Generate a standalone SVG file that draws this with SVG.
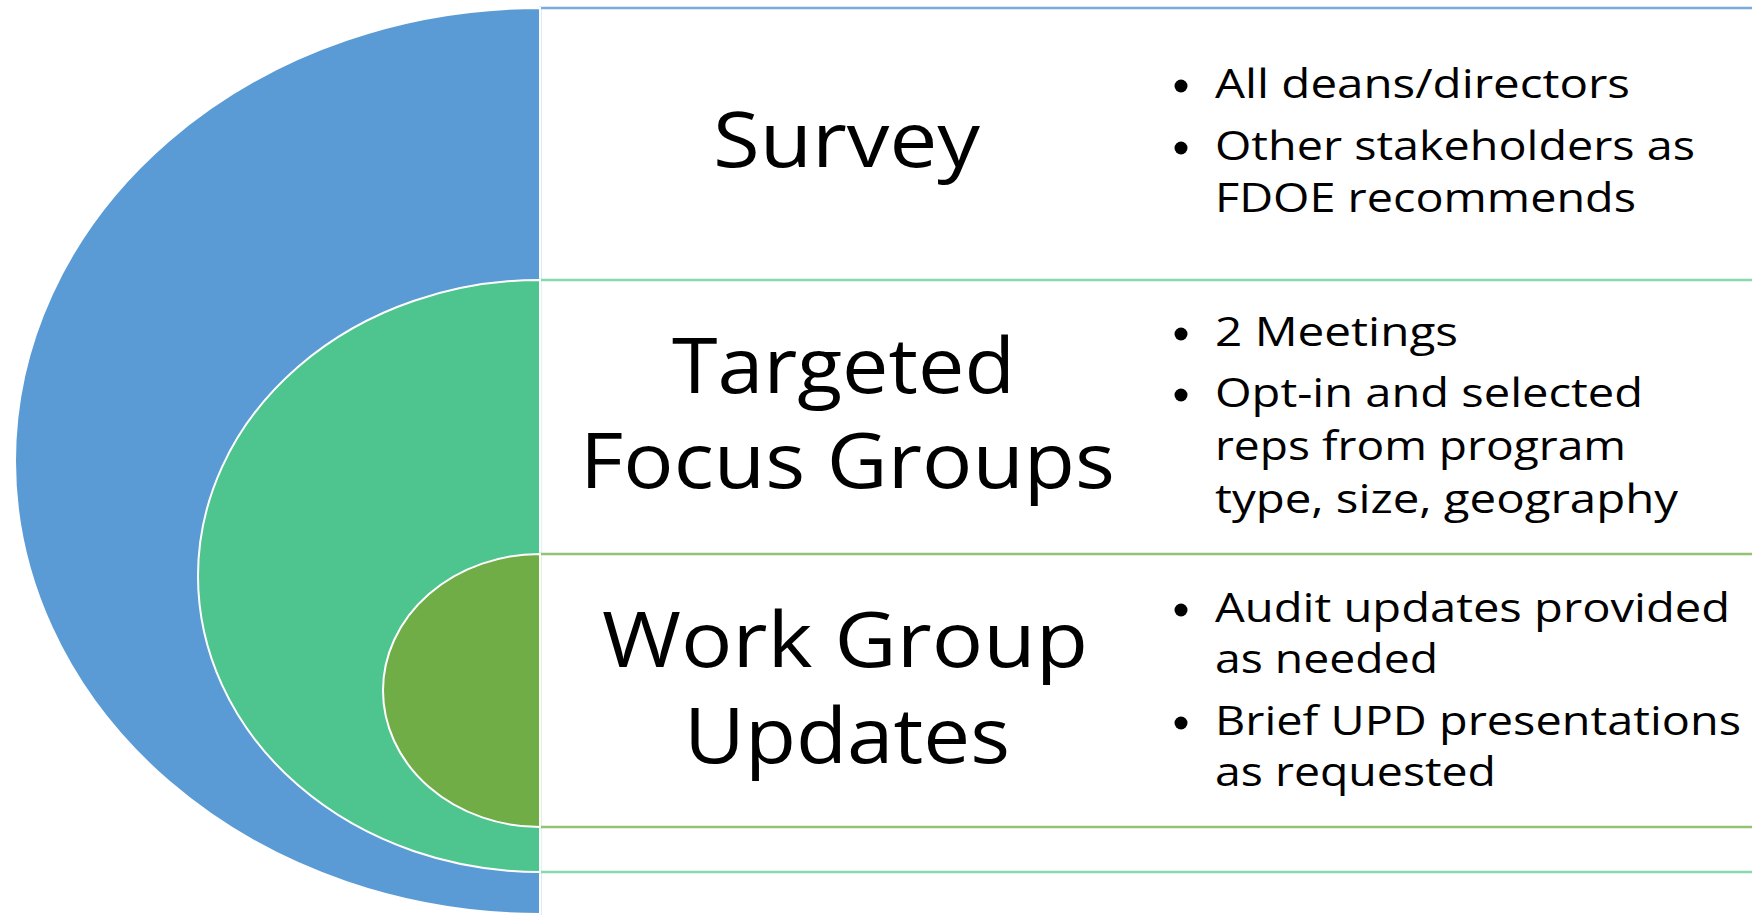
<svg xmlns="http://www.w3.org/2000/svg" width="1752" height="915" viewBox="0 0 1752 915">
<style>
.h{font-family:"Open Sans","Noto Sans","Liberation Sans",sans-serif;font-size:77px;fill:#000}
.b{font-family:"Open Sans","Noto Sans","Liberation Sans",sans-serif;font-size:40px;fill:#000}
.box{fill:#fff;stroke-width:2.5}
.arc{stroke:#fff;stroke-width:2}
</style>
<rect width="1752" height="915" fill="#fff"/>
<g id="survey">
<rect class="box" x="540" y="8" width="1260" height="940" stroke="#79ACDD"/>
<path class="arc" d="M540,8 A525,453 0 0 0 540,914 Z" fill="#5B9BD5"/>
<text class="h" x="713" y="167" textLength="267" lengthAdjust="spacingAndGlyphs">Survey</text>
<circle cx="1181" cy="86" r="6.5"/>
<text class="b" x="1215" y="98" textLength="415" lengthAdjust="spacingAndGlyphs">All deans/directors</text>
<circle cx="1181" cy="148" r="6.5"/>
<text class="b" x="1215" y="160" textLength="480" lengthAdjust="spacingAndGlyphs">Other stakeholders as</text>
<text class="b" x="1215" y="212" textLength="421" lengthAdjust="spacingAndGlyphs">FDOE recommends</text>
</g>
<g id="focus-groups">
<rect class="box" x="540" y="280" width="1260" height="592" stroke="#86D9B0"/>
<path class="arc" d="M540,280 A342,296 0 0 0 540,872 Z" fill="#4EC48E"/>
<text class="h" x="672" y="393" textLength="343" lengthAdjust="spacingAndGlyphs">Targeted</text>
<text class="h" x="580" y="488" textLength="535" lengthAdjust="spacingAndGlyphs">Focus Groups</text>
<circle cx="1181" cy="334" r="6.5"/>
<text class="b" x="1215" y="346" textLength="243" lengthAdjust="spacingAndGlyphs">2 Meetings</text>
<circle cx="1181" cy="395" r="6.5"/>
<text class="b" x="1215" y="407" textLength="428" lengthAdjust="spacingAndGlyphs">Opt-in and selected</text>
<text class="b" x="1215" y="460" textLength="411" lengthAdjust="spacingAndGlyphs">reps from program</text>
<text class="b" x="1215" y="513" textLength="463" lengthAdjust="spacingAndGlyphs">type, size, geography</text>
</g>
<g id="work-group-updates">
<rect class="box" x="540" y="554" width="1260" height="273" stroke="#92C374"/>
<path class="arc" d="M540,554 A157,136.5 0 0 0 540,827 Z" fill="#70AD47"/>
<text class="h" x="602" y="667" textLength="486" lengthAdjust="spacingAndGlyphs">Work Group</text>
<text class="h" x="684" y="763" textLength="326" lengthAdjust="spacingAndGlyphs">Updates</text>
<circle cx="1181" cy="610" r="6.5"/>
<text class="b" x="1215" y="622" textLength="515" lengthAdjust="spacingAndGlyphs">Audit updates provided</text>
<text class="b" x="1215" y="673" textLength="223" lengthAdjust="spacingAndGlyphs">as needed</text>
<circle cx="1181" cy="723" r="6.5"/>
<text class="b" x="1215" y="735" textLength="526" lengthAdjust="spacingAndGlyphs">Brief UPD presentations</text>
<text class="b" x="1215" y="786" textLength="281" lengthAdjust="spacingAndGlyphs">as requested</text>
</g>
<g id="connectors"></g>
</svg>
